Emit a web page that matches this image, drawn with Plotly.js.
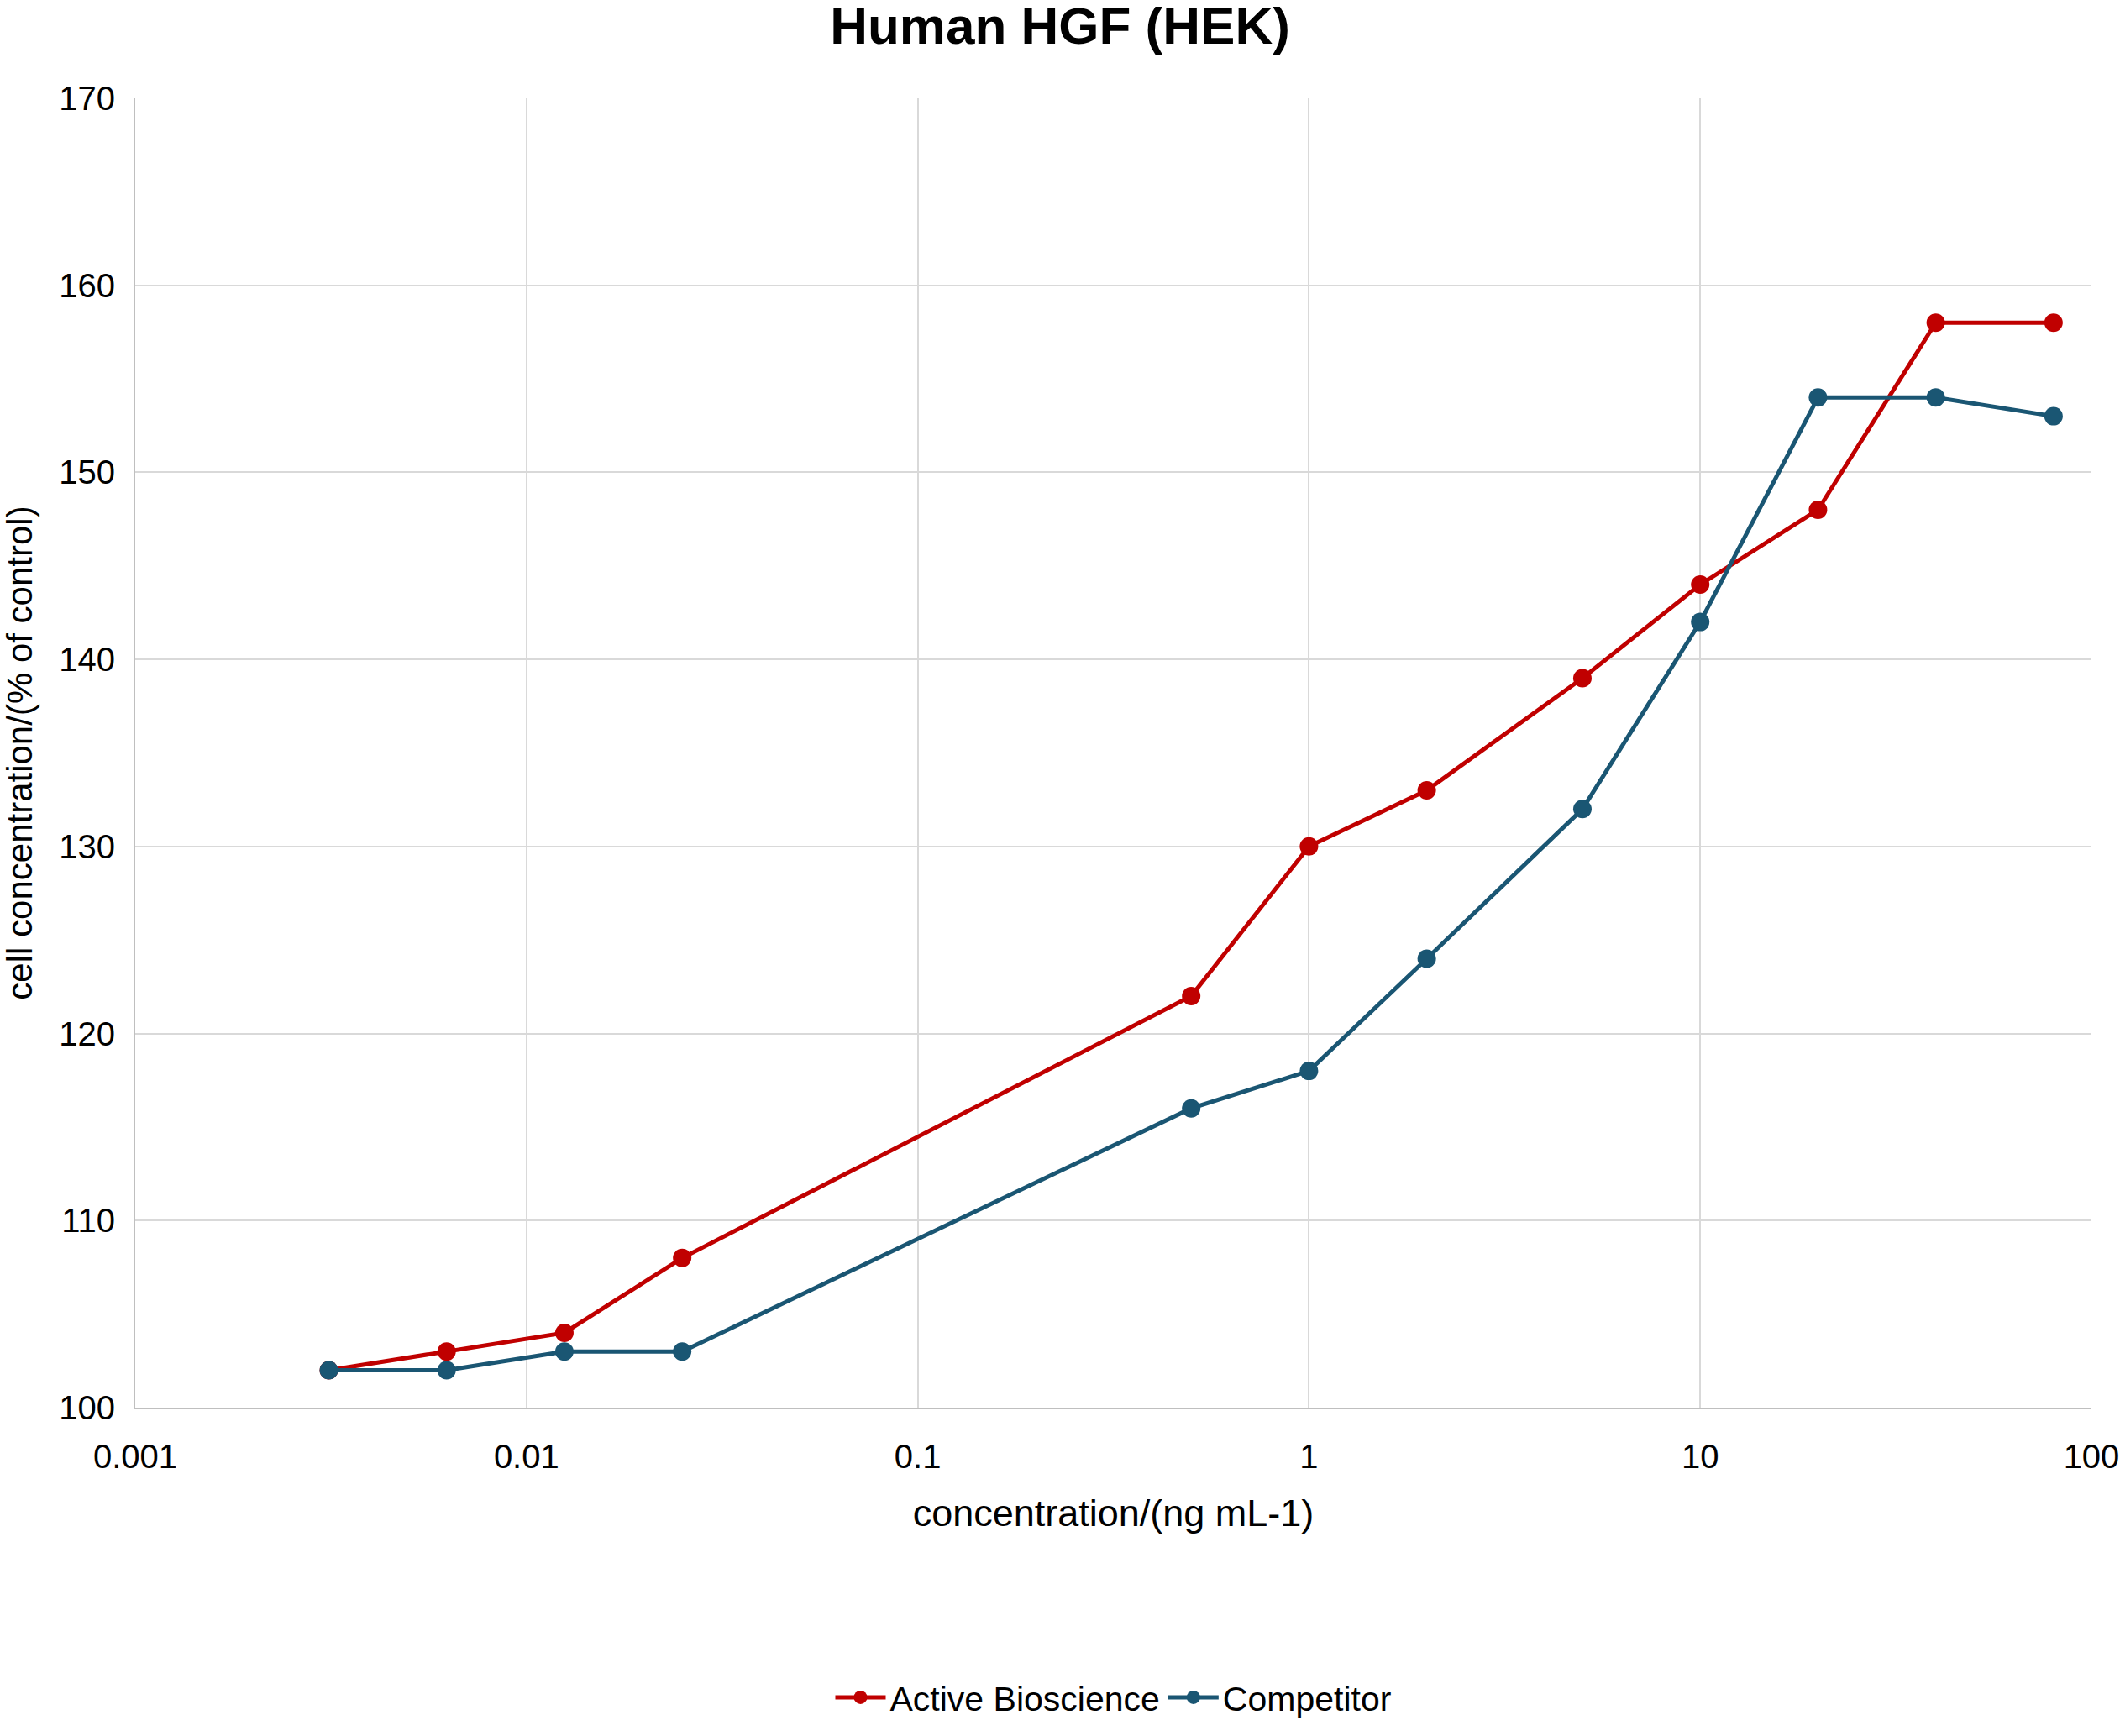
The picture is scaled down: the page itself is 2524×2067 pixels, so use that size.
<!DOCTYPE html>
<html>
<head>
<meta charset="utf-8">
<script src="https://cdn.plot.ly/plotly-3.0.1.min.js"></script>
<style>body{margin:0;background:#fff}</style>
</head>
<body>
<div id="chart" style="width:2524px;height:2067px"></div>
<script>
// concentrations in ng/mL
const conc = [0.003125, 0.00625, 0.0125, 0.025, 0.5, 1, 2, 5, 10, 20, 40, 80];
const activeVals = [102, 103, 104, 108, 122, 130, 133, 139, 144, 148, 158, 158];
const competitorVals = [102, 102, 103, 103, 116, 118, 124, 132, 142, 154, 154, 153];
const xTickVals = [0.001, 0.01, 0.1, 1, 10, 100];
const xTickText = ['0.001', '0.01', '0.1', '1', '10', '100'];

const font = 'Liberation Sans, Arial, sans-serif';

let traces = [
  {
    name: 'Active Bioscience', x: conc, y: activeVals, type: 'scatter', mode: 'lines+markers',
    line: {color: '#C00000', width: 5}, marker: {color: '#C00000', size: 22}
  },
  {
    name: 'Competitor', x: conc, y: competitorVals, type: 'scatter', mode: 'lines+markers',
    line: {color: '#1A5673', width: 5}, marker: {color: '#1A5673', size: 22}
  }
];

let layout = {
  width: 2524, height: 2067,
  margin: {l: 161, r: 34, t: 117, b: 253},
  paper_bgcolor: '#fff', plot_bgcolor: '#fff',
  font: {family: font, size: 40, color: '#000'},
  title: {text: '<b>Human HGF (HEK)</b>', x: 0.5, y: 0.996, yanchor: 'top', font: {size: 62}},
  xaxis: {
    type: 'log', range: [-3, 2], tickvals: xTickVals, ticktext: xTickText,
    showgrid: true, gridcolor: '#d9d9d9', gridwidth: 2,
    showline: true, linecolor: '#bfbfbf', linewidth: 2, zeroline: false,
    ticks: '', ticklabelstandoff: 22,
    title: {text: 'concentration/(ng mL-1)', font: {size: 45}, standoff: 30}
  },
  yaxis: {
    range: [100, 170], dtick: 10,
    showgrid: true, gridcolor: '#d9d9d9', gridwidth: 2,
    showline: true, linecolor: '#bfbfbf', linewidth: 2, zeroline: false,
    ticks: '', ticklabelstandoff: 14,
    title: {text: 'cell concentration/(% of control)', font: {size: 42}, standoff: 28}
  },
  legend: {orientation: 'h', x: 0.5, xanchor: 'center', y: -0.2, yanchor: 'top',
           font: {size: 41}, itemwidth: 60},
  showlegend: true
};

layout.margin.b = 223;
Plotly.newPlot('chart', traces, layout, {displayModeBar: false});
</script>
</body>
</html>
